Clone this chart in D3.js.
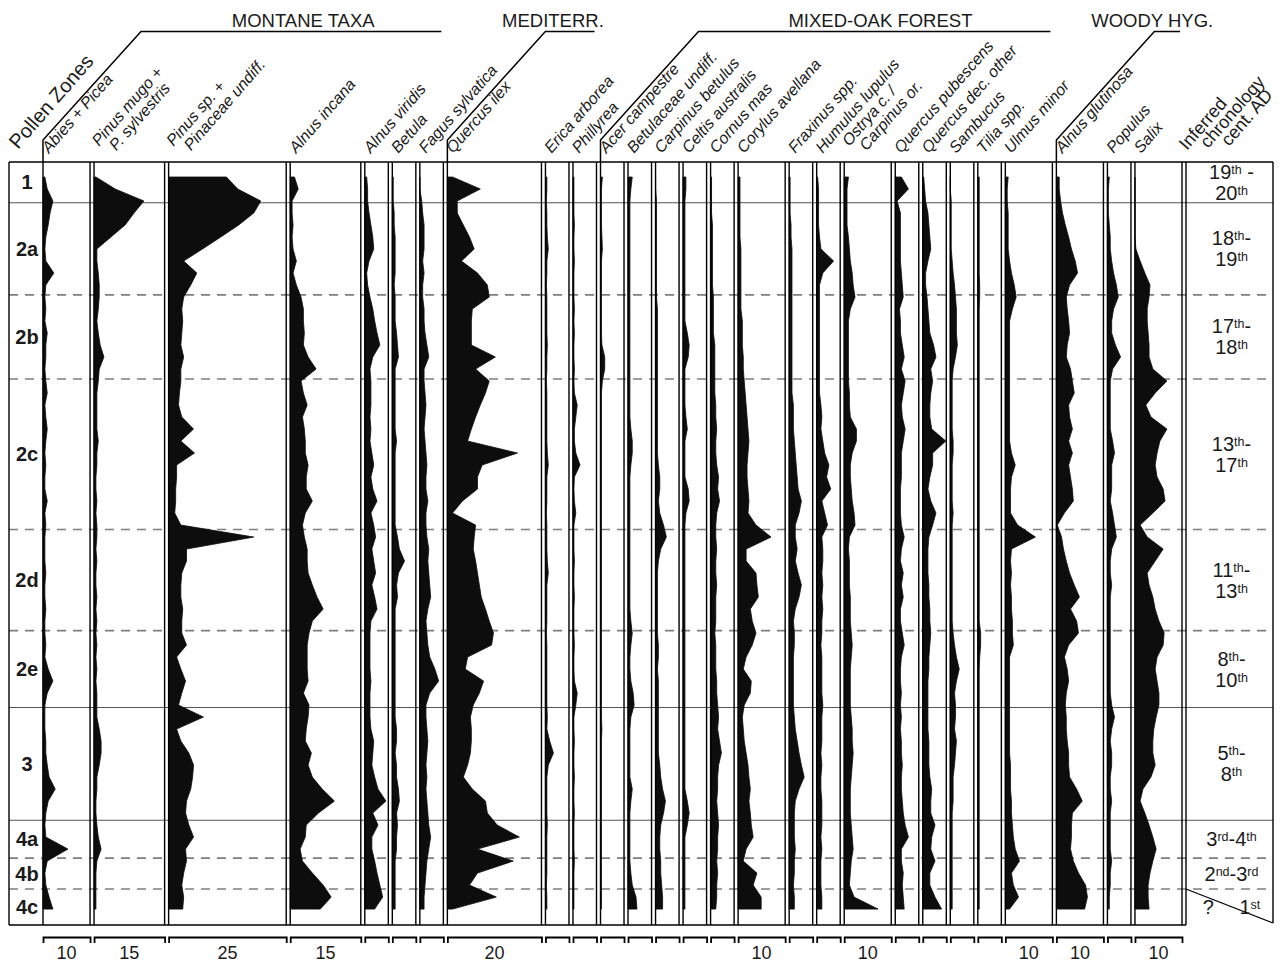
<!DOCTYPE html>
<html>
<head>
<meta charset="utf-8">
<script src="https://cdn.jsdelivr.net/npm/d3@7"></script>
<style>
  body { margin: 0; background: #fff; }
  svg { display: block; font-family: "Liberation Sans", Arial, sans-serif; }
</style>
</head>
<body>
<svg id="chart" width="1287" height="967"></svg>
<script>
// ---------------------------------------------------------------
// Pollen percentage diagram – trees and shrubs
// ---------------------------------------------------------------

// sample depths (cm below the top of the sequence)
const depths = [5,9,13,17,21,25,29,33,37,41, 45,49,53,57,61,65,69,73,77,81,
  85,89,93,97,101,105,109,113,117,121, 125,129,133,137,141,145,149,153,157,161,
  165,169,173,177,181,185,189,193,197,201, 205,209,213,217,221,225,229,233,237,241,245,249];

// taxon names (one entry per curve, multi-line where needed)
const taxonLabels = [
  ["Abies + Picea"], ["Pinus mugo +", "P. sylvestris"], ["Pinus sp. +", "Pinaceae undiff."],
  ["Alnus incana"], ["Alnus viridis"], ["Betula"], ["Fagus sylvatica"],
  ["Quercus ilex"], ["Erica arborea"], ["Phillyrea"],
  ["Acer campestre"], ["Betulaceae undiff."], ["Carpinus betulus"], ["Celtis australis"],
  ["Cornus mas"], ["Corylus avellana"], ["Fraxinus spp."], ["Humulus lupulus"],
  ["Ostrya c. /", "Carpinus or."], ["Quercus pubescens"], ["Quercus dec. other"],
  ["Sambucus"], ["Tilia spp."], ["Ulmus minor"],
  ["Alnus glutinosa"], ["Populus"], ["Salix"]
];

// full width of each curve's scale (%)
const scaleMax = [10,15,25,15,5,5,5,20,5,5,5,5,5,5,5,10,5,5,10,5,5,5,5,10,10,5,10];
// scale labels printed under the curves
const scaleLabels = ["10","15","25","15","","","","20","","","","","","","","10","","","10","","","","","10","10","","10"];

// ecological groups: [title, first curve, last curve]
const groupNames = ["MONTANE TAXA", "MEDITERR.", "MIXED-OAK FOREST", "WOODY HYG."];
const groupFirst = [0, 7, 10, 24];
const groupLast  = [6, 9, 23, 26];

// pollen zones
const zoneNames = ["1","2a","2b","2c","2d","2e","3","4a","4b","4c"];
const zoneTops  = [0, 13.6, 44.3, 72.3, 122.5, 156.2, 181.8, 219.4, 232.0, 242.3];
const coreBase  = 254.3;
// boundary at the top of each zone: main (solid) or sub-zone (dashed)
const zoneBoundaryDashed = [false, false, true, true, true, true, false, false, true, true];

// inferred chronology (centuries AD); ^...^ marks superscript
const chronology = [
  ["19^th^ -", "20^th^"], ["18^th^-", "19^th^"], ["17^th^-", "18^th^"], ["13^th^-", "17^th^"],
  ["11^th^-", "13^th^"], ["8^th^-", "10^th^"], ["5^th^-", "8^th^"],
  ["3^rd^-4^th^"], ["2^nd^-3^rd^"], ["?\u2002\u2002 1^st^"]
];
const chronologyTitle = ["Inferred", "chronology", "cent. AD"];

// percentages per taxon, one value per sample depth
const abiesPicea = [0.4,0.9,2.1,1.5,1.1,0.6,0.4,0.6,2.3,0.6, 0.4,0.6,0.4,0.9,0.6,0.6,0.4,0.6,0.9,0.4, 0.6,0.9,0.6,0.4,0.6,0.4,0.4,0.9,0.4,0.6, 0.4,0.4,0.4,0.6,0.4,0.4,0.6,0.4,0.4,0.6, 0.4,1.1,2.1,0.9,0.4,0.4,0.4,0.6,0.6,0.9, 1.3,2.6,1.1,0.6,0.4,0.6,5.3,0.9,0.4,0.6,1.3,2.1];
const pinusMugo = [0.4,4.5,10.6,8.5,6.6,3.6,0.6,0.6,0.9,1.1, 1.1,0.9,0.6,0.9,1.3,2.1,1.1,0.9,0.6,0.6, 0.6,0.6,0.9,0.6,0.6,0.4,0.4,0.6,0.4,0.6, 0.6,0.4,0.6,0.4,0.4,0.6,0.4,0.6,0.4,0.6, 0.4,0.6,0.4,0.6,0.6,0.6,1.1,1.5,1.5,1.1, 0.6,0.6,0.4,0.4,0.6,0.9,1.5,0.6,0.4,0.4,0.4,0.4];
const pinusSp = [12.3,14.7,19.6,18.1,14.9,11.1,7.2,3.2,6.0,4.7, 3.2,2.8,3.0,2.8,2.6,3.2,2.6,2.6,2.3,2.1, 2.8,5.3,2.6,5.5,1.7,1.7,1.5,1.5,1.3,2.6, 18.1,3.8,3.8,2.8,2.6,2.6,3.0,2.8,2.8,3.8, 1.7,2.6,3.6,2.8,2.1,7.4,1.7,2.6,4.3,5.3, 5.1,4.7,3.8,3.6,4.3,5.3,3.6,3.8,3.2,2.8,3.2,3.0];
const alnusIncana = [0.9,1.7,0.4,0.4,0.6,0.4,0.6,1.3,0.6,1.3, 2.3,2.8,2.8,3.0,2.8,3.8,5.5,2.3,2.8,3.6, 2.6,3.0,3.2,3.2,3.8,3.4,3.4,4.7,3.2,2.6, 3.0,3.6,3.6,3.8,4.7,5.7,7.0,4.7,4.0,3.6, 3.6,3.6,3.8,2.8,4.0,3.8,3.4,3.2,4.5,3.8, 4.7,6.8,9.4,6.0,3.4,3.2,2.1,2.6,4.7,7.0,8.7,6.4];
const alnusViridis = [0.4,0.6,0.6,0.9,1.3,1.7,1.9,0.9,0.4,0.6, 1.1,1.7,2.1,2.6,3.2,1.7,1.1,1.3,1.3,1.3, 1.1,1.3,1.1,1.5,1.9,1.3,1.7,2.6,1.3,1.9, 2.3,1.5,1.9,2.3,1.5,2.1,2.6,1.3,1.1,1.1, 1.1,1.1,1.3,1.1,1.1,1.1,1.3,1.9,1.7,1.5, 2.1,2.8,4.5,1.7,2.8,1.5,1.5,2.1,2.6,3.2,3.8,2.1];
const betula = [0.2,0.2,0.2,0.4,0.4,0.6,0.6,0.6,0.6,0.4, 0.6,0.6,0.6,0.9,1.1,1.3,0.6,0.6,0.6,0.6, 0.6,0.6,0.9,0.6,0.6,0.6,0.6,0.6,0.6,0.6, 1.1,1.5,2.6,1.3,0.9,1.1,0.6,0.6,0.6,0.6, 0.6,0.6,0.6,0.6,0.6,0.6,0.9,0.9,0.6,0.9, 0.9,1.3,1.5,0.9,1.1,0.9,0.9,0.6,0.6,0.6,0.6,0.6];
const fagusSylvatica = [0,0,0.4,0.6,0.9,0.9,0.9,0.6,0.9,0.6, 0.6,0.9,0.9,1.1,1.5,1.9,0.9,0.9,1.1,1.3, 1.1,0.9,1.1,1.3,1.5,1.3,1.3,1.7,1.3,1.3, 1.5,1.9,1.7,1.9,2.1,2.3,1.7,1.3,1.5,1.7, 2.1,3.2,4.0,2.1,1.3,1.3,1.5,1.7,1.5,1.3, 1.5,1.3,1.5,1.7,1.9,2.3,1.9,1.5,1.3,1.1,0.9,0.9];
const quercusIlex = [1.1,7.0,2.1,2.1,3.4,4.7,5.7,3.0,6.4,8.5, 8.9,5.3,5.1,5.1,5.1,10.2,6.0,8.9,8.1,7.0, 6.0,5.1,4.3,14.9,7.4,6.4,6.4,3.2,1.1,6.0, 5.7,5.5,6.0,6.4,6.8,7.2,8.1,8.9,9.8,9.4, 4.3,3.8,7.7,6.8,5.5,4.9,5.1,5.1,4.9,4.3, 3.4,5.3,8.1,8.5,10.6,15.3,6.4,14.0,6.4,4.7,10.4,1.1];
const ericaArborea = [0.3,0.3,0.2,0.3,0.3,0.4,0.6,0.3,0.3,0.2, 0.3,0.3,0.3,0.3,0.4,0.3,0.3,0.2,0.3,0.3, 0.3,0.3,0.3,0.4,0.6,0.3,0.3,0.3,0.2,0.3, 0.3,0.3,0.4,0.6,0.3,0.3,0.3,0.3,0.2,0.3, 0.3,0.3,0.3,0.3,0.3,0.4,0.3,0.9,1.7,0.6, 0.3,0.3,0.3,0.3,0.4,0.3,0.3,0.3,0.3,0.2,0.3,0.3];
const phillyrea = [0.2,0.2,0.2,0.2,0.3,0.2,0.2,0.3,0.2,0.2, 0.2,0.3,0.2,0.3,0.2,0.2,0.3,0.2,0.3,0.9, 0.6,0.3,0.3,0.6,1.5,0.3,0.2,0.3,0.6,0.2, 0.2,0.2,0.3,0.2,0.2,0.3,0.2,0.2,0.2,0.3, 0.2,0.2,0.3,0.9,0.6,0.2,0.2,0.3,0.2,0.2, 0.3,0.2,0.2,0.3,0.2,0.2,0.2,0.3,0.2,0.2,0.2,0.2];
const acerCampestre = [0.4,0.2,0.2,0.2,0.2,0.3,0.4,0.2,0.2,0.2, 0.2,0.2,0.2,0.2,0.3,0.9,0.9,0.4,0.2,0.2, 0.2,0.2,0.2,0.2,0.2,0.2,0.2,0.2,0.2,0.2, 0.2,0.2,0.2,0.2,0.2,0.2,0.2,0.2,0.2,0.2, 0.2,0.2,0.2,0.2,0.2,0.2,0.3,0.2,0.2,0.2, 0.2,0.2,0.2,0.2,0.2,0.2,0.2,0.2,0.2,0.2,0.2,0.2];
const betulaceaeUndiff = [0.9,0.6,0.4,0.4,0.4,0.4,0.4,0.4,0.4,0.4, 0.4,0.4,0.4,0.4,0.4,0.4,0.4,0.4,0.4,0.4, 0.4,0.6,0.9,0.9,0.6,0.4,0.4,0.4,0.4,0.4, 0.4,0.4,0.4,0.4,0.4,0.4,0.4,0.6,0.9,0.6, 0.4,0.4,0.6,1.1,1.3,0.6,0.4,0.4,0.4,0.4, 0.4,0.9,0.6,0.4,0.4,0.4,0.4,0.4,0.6,0.9,1.7,1.9];
const carpinusBetulus = [0,0,0.2,0.2,0.2,0.2,0.2,0.2,0.2,0.2, 0.2,0.4,0.4,0.4,0.4,0.4,0.4,0.4,0.4,0.4, 0.4,0.4,0.4,0.4,0.6,0.9,0.9,0.6,0.9,1.7, 2.3,1.1,0.6,0.4,0.4,0.4,0.4,0.4,0.4,0.6, 0.6,0.4,0.6,0.6,0.6,0.6,0.6,0.6,0.6,0.9, 1.1,1.5,2.1,1.7,1.1,0.9,0.9,1.1,1.1,1.3,1.5,1.5];
const celtisAustralis = [0.6,0.6,0.4,0.4,0.4,0.4,0.4,0.4,0.4,0.4, 0.4,0.4,0.4,0.9,1.3,1.1,0.4,0.4,0.4,0.4, 0.6,0.9,0.4,0.4,0.4,0.4,1.1,1.3,0.6,0.4, 0.4,0.4,0.4,0.4,0.4,0.4,0.4,0.4,0.4,0.4, 0.4,0.4,0.4,0.4,0.4,0.4,0.4,0.4,0.4,0.4, 0.4,0.4,0.9,1.3,0.9,0.4,0.4,0.4,0.4,0.4,0.4,0.4];
const cornusMas = [0.2,0.2,0.2,0.2,0.4,0.4,0.4,0.4,0.4,0.4, 0.6,0.6,0.6,0.6,0.9,0.9,0.9,0.9,0.9,1.1, 1.1,1.3,1.1,1.1,1.3,1.7,1.5,1.9,1.3,1.1, 1.1,1.3,1.1,1.1,1.3,1.1,1.1,1.1,0.9,1.1, 1.1,1.1,1.3,1.3,1.5,1.7,1.5,1.9,2.3,1.7, 1.5,1.5,1.3,1.5,1.7,1.5,1.5,1.3,1.5,1.3,1.3,1.1];
const corylusAvellana = [0.4,0.4,0.4,0.4,0.4,0.4,0.6,0.6,0.6,0.6, 0.6,0.6,0.9,0.9,0.9,1.1,1.1,1.3,1.5,1.7, 1.9,2.1,2.3,2.1,1.9,1.9,2.1,2.3,2.1,3.8, 7.0,1.7,1.7,3.8,4.0,4.3,2.6,3.0,3.8,3.0, 1.7,1.1,2.8,2.6,1.3,0.9,1.1,1.3,1.7,2.1, 2.3,2.6,2.3,2.6,2.8,3.2,1.7,1.1,4.0,3.2,4.9,4.9];
const fraxinusSpp = [0.2,0.2,0.2,0.2,0.4,0.4,0.6,0.6,0.6,0.6, 0.6,0.6,0.6,0.6,0.6,0.6,0.6,0.6,0.6,0.9, 0.9,0.9,1.1,1.3,1.5,1.7,1.9,2.6,2.1,1.3, 1.3,1.7,1.3,1.9,2.6,2.1,1.3,0.9,1.1,1.1, 0.9,0.9,0.9,0.9,0.9,1.1,1.3,1.7,2.1,2.6, 3.2,2.1,1.3,1.1,1.1,1.1,1.3,1.1,1.1,0.9,1.1,1.1];
const humulusLupulus = [0.2,0.4,0.4,0.4,0.4,0.6,0.9,3.6,1.3,0.6, 0.6,0.6,0.6,0.6,0.6,0.6,0.6,0.6,0.6,0.9, 1.1,0.9,1.3,1.7,2.6,2.1,3.0,1.1,1.7,2.3, 1.1,1.3,1.3,1.1,1.3,1.1,1.3,1.1,1.1,0.9, 1.1,1.1,1.1,1.1,1.3,1.1,1.1,1.1,0.9,1.1, 0.9,0.9,1.1,1.1,1.1,0.9,1.1,0.9,0.9,0.9,1.1,1.1];
const ostryaCarpinusOr = [0.9,0.6,0.6,0.6,0.6,0.9,1.1,1.3,1.7,1.9, 2.3,1.3,0.9,0.9,0.9,0.9,0.9,0.9,1.1,1.1, 1.3,2.6,2.6,1.7,1.3,1.3,1.5,1.7,2.1,2.3, 1.1,0.9,1.1,1.1,1.1,1.3,1.3,1.3,1.5,1.7, 1.5,1.3,1.3,1.3,1.3,1.5,1.7,1.7,1.9,1.7, 1.5,1.3,1.3,1.3,1.5,1.7,1.9,1.5,1.3,1.1,2.1,7.2];
const quercusPubescens = [1.3,2.8,0.4,1.1,1.1,1.1,1.1,1.1,1.3,1.5, 1.7,0.9,1.1,1.1,1.5,1.9,1.3,2.1,1.7,1.3, 1.5,2.1,1.7,1.3,1.3,1.3,1.1,1.1,1.1,1.3, 1.9,1.3,1.1,1.7,1.3,1.7,1.1,1.1,1.5,1.9, 1.3,1.1,1.1,1.3,1.1,1.3,1.1,1.3,1.3,1.5, 1.3,1.3,1.5,1.7,2.1,2.8,1.3,1.3,1.7,1.5,1.7,1.9];
const quercusDecOther = [0.2,0.4,0.6,1.1,1.3,1.5,1.7,1.1,0.6,0.6, 0.9,1.1,1.3,1.5,2.3,2.8,1.7,2.1,1.7,1.5, 1.5,1.9,4.9,2.1,2.1,1.5,1.1,1.7,2.8,2.1, 1.3,1.1,1.1,1.1,1.3,1.3,1.5,1.5,1.7,1.5, 1.3,1.3,1.1,1.1,1.1,1.1,1.1,1.3,1.3,1.3, 1.5,1.9,1.7,1.7,2.6,1.9,1.7,2.6,1.5,1.5,2.6,4.0];
const sambucus = [0,0,0.2,0.2,0.2,0.2,0.2,0.4,0.6,0.9, 1.1,1.3,1.3,1.3,1.5,1.1,0.6,0.4,0.4,0.4, 0.4,0.4,0.6,0.6,0.4,0.4,0.4,0.4,0.6,0.4, 0.4,0.4,0.4,0.4,0.4,0.4,0.4,0.4,0.6,0.9, 1.3,1.9,1.3,0.9,1.1,1.1,0.9,1.3,1.1,0.9, 0.6,0.6,0.6,0.4,0.4,0.4,0.4,0.4,0.4,0.4,0.4,0.4];
const tiliaSpp = [0.3,0.3,0.3,0.3,0.3,0.3,0.3,0.3,0.3,0.4, 0.4,0.3,0.3,0.3,0.3,0.3,0.3,0.3,0.3,0.3, 0.3,0.3,0.3,0.3,0.3,0.3,0.3,0.3,0.3,0.3, 0.3,0.3,0.3,0.3,0.3,0.3,0.3,0.3,0.6,0.6, 0.4,0.3,0.3,0.3,0.3,0.3,0.3,0.3,0.3,0.3, 0.3,0.3,0.3,0.3,0.3,0.3,0.3,0.3,0.3,0.3,0.3,0.3];
const ulmusMinor = [0.6,0.4,0.4,0.6,0.6,0.6,0.6,0.9,1.3,1.9, 2.3,1.5,0.9,0.9,0.9,0.9,0.9,0.9,0.9,0.9, 0.9,0.9,0.9,1.3,2.1,1.3,1.1,1.1,1.1,2.6, 6.4,1.3,1.1,1.3,1.1,1.3,1.3,1.5,1.5,1.7, 0.9,0.9,0.9,0.9,0.9,0.9,0.9,0.9,0.9,1.1, 1.1,1.1,1.3,1.3,1.5,1.7,2.1,3.0,1.3,1.7,2.8,0.9];
const alnusGlutinosa = [0.6,0.6,0.9,1.3,1.9,2.6,3.2,4.0,4.5,2.8, 2.1,2.3,2.6,2.8,2.3,2.1,3.0,3.4,3.8,2.6, 2.8,3.4,2.6,3.4,2.6,3.0,3.4,3.6,1.7,0.2, 1.1,1.5,2.1,2.8,3.8,4.9,3.0,4.3,4.7,2.6, 1.7,2.3,2.6,2.1,1.9,2.1,2.1,2.3,2.6,2.6, 2.8,4.3,5.5,3.4,3.2,3.2,3.0,3.6,4.7,6.2,6.6,6.0];
const populus = [0.4,0.2,0.2,0.2,0.4,0.6,0.6,0.9,1.3,1.9, 2.3,1.3,0.9,0.9,1.7,2.8,1.1,0.6,0.6,0.6, 0.6,0.6,1.1,1.5,0.9,0.9,0.9,0.6,1.1,1.5, 1.9,0.9,0.6,0.6,0.9,0.6,0.6,0.6,0.6,0.6, 0.6,0.6,0.6,0.6,0.9,1.5,0.9,0.6,0.9,0.9, 0.6,0.6,0.9,0.6,0.6,0.6,0.6,0.9,0.6,0.6,0.4,0.4];
const salix = [0,0,0,0,0,0,0.2,1.1,2.1,3.2, 3.0,2.6,2.6,2.8,3.0,3.0,3.8,6.8,4.3,2.3, 3.4,6.8,5.3,4.7,4.3,4.7,6.0,6.4,3.8,1.1, 2.6,6.0,4.3,2.6,3.0,3.8,4.3,5.1,6.2,6.0, 4.7,4.3,4.7,5.1,5.1,4.5,4.0,3.8,3.8,4.3, 3.4,1.7,1.1,2.1,3.0,3.8,4.5,3.8,3.2,2.8,2.8,3.0];

const series = [abiesPicea, pinusMugo, pinusSp, alnusIncana, alnusViridis, betula, fagusSylvatica,
  quercusIlex, ericaArborea, phillyrea,
  acerCampestre, betulaceaeUndiff, carpinusBetulus, celtisAustralis, cornusMas, corylusAvellana,
  fraxinusSpp, humulusLupulus, ostryaCarpinusOr, quercusPubescens, quercusDecOther, sambucus,
  tiliaSpp, ulmusMinor, alnusGlutinosa, populus, salix];

// ---------------------------------------------------------------
// layout
// ---------------------------------------------------------------
const svg = d3.select("#chart");
const ink = "#1a1a1a";
const frameTop = 162, frameBottom = 925;
const zoneColLeft = 9, firstPanelLeft = 43, lastPanelRight = 1182, panelGap = 4, chronRight = 1273;

const pxPerPct = (lastPanelRight - firstPanelLeft - panelGap * (scaleMax.length - 1)) / d3.sum(scaleMax);
let cursor = firstPanelLeft;
const panels = scaleMax.map((m, i) => {
  const x0 = cursor, x1 = x0 + m * pxPerPct;
  cursor = x1 + panelGap;
  return { i, x0, x1, x: d3.scaleLinear().domain([0, m]).range([x0, x1]) };
});
const chronLeft = panels[panels.length - 1].x1 + panelGap;

const y = d3.scaleLinear().domain([0, coreBase]).range([frameTop, frameBottom]);

// zone boundaries (drawn under the curves)
const gZones = svg.append("g");
zoneTops.forEach((d, i) => {
  if (i === 0) return;
  const dashed = zoneBoundaryDashed[i];
  gZones.append("line")
    .attr("x1", zoneColLeft).attr("x2", chronRight)
    .attr("y1", y(d)).attr("y2", y(d))
    .attr("stroke", dashed ? "#7f7f7f" : "#555")
    .attr("stroke-width", dashed ? 1.6 : 1.1)
    .attr("stroke-dasharray", dashed ? "9,7" : null);
});

// silhouette curves
const gCurves = svg.append("g");
panels.forEach(p => {
  const rows = depths.map((d, k) => ({ d, v: series[p.i][k] }));
  const area = d3.area()
    .x0(p.x0)
    .x1(r => p.x(r.v))
    .y(r => y(r.d));
  gCurves.append("path")
    .attr("d", area(rows))
    .attr("fill", "#0d0d0d")
    .attr("stroke", "#0d0d0d")
    .attr("stroke-width", 0.8)
    .attr("stroke-linejoin", "miter");
});

// panel borders and frame
const gFrame = svg.append("g").attr("stroke", "#000").attr("fill", "none");
const vline = (x, y1, y2, w) => gFrame.append("line")
  .attr("x1", x).attr("x2", x).attr("y1", y1).attr("y2", y2).attr("stroke-width", w || 1.4);
vline(zoneColLeft, frameTop, frameBottom);
panels.forEach(p => { vline(p.x0, frameTop, frameBottom); vline(p.x1, frameTop, frameBottom); });
vline(chronLeft, frameTop, frameBottom);
vline(chronRight, frameTop, frameBottom - 2);
gFrame.append("line").attr("x1", zoneColLeft).attr("x2", chronRight)
  .attr("y1", frameTop).attr("y2", frameTop).attr("stroke-width", 1.6);
gFrame.append("line").attr("x1", zoneColLeft).attr("x2", chronLeft)
  .attr("y1", frameBottom).attr("y2", frameBottom).attr("stroke-width", 1.6);
gFrame.append("line").attr("x1", chronLeft).attr("x2", chronRight)
  .attr("y1", y(zoneTops[9])).attr("y2", frameBottom - 2).attr("stroke-width", 1.3);

// zone labels
zoneNames.forEach((z, i) => {
  const top = zoneTops[i], base = i < zoneTops.length - 1 ? zoneTops[i + 1] : coreBase;
  svg.append("text")
    .attr("x", 27).attr("y", (y(top) + y(base)) / 2 + 7)
    .attr("text-anchor", "middle").attr("font-weight", "bold").attr("font-size", 20)
    .attr("fill", ink).text(z);
});

// chronology labels with superscripts (one text element per zone)
const supRaise = 5;
function richText(sel, str, size, supSize) {
  let raised = false;
  const spans = [];
  str.split("^").forEach((s, i) => {
    if (!s) return;
    const sup = i % 2 === 1;
    const t = sel.append("tspan").attr("font-size", sup ? supSize : size).text(s);
    if (sup !== raised) { t.attr("dy", sup ? -supRaise : supRaise); raised = sup; }
    spans.push(t);
  });
  return { spans, raised };
}
const chronMid = (chronLeft + chronRight) / 2 + 2;
const chronLine = 21;
chronology.forEach((lines, i) => {
  const top = zoneTops[i], base = i < zoneTops.length - 1 ? zoneTops[i + 1] : coreBase;
  const mid = (y(top) + y(base)) / 2;
  const t = svg.append("text")
    .attr("x", chronMid)
    .attr("y", mid - (lines.length - 1) / 2 * chronLine + 7)
    .attr("text-anchor", "middle").attr("fill", ink);
  let lastRaised = false;
  lines.forEach((ln, j) => {
    const r = richText(t, ln, 20, 12.5);
    if (j > 0) {
      // first span of a new line starts at the column centre, one line lower
      const back = lastRaised ? supRaise : 0;
      r.spans[0].attr("x", chronMid).attr("dy", chronLine + back);
    }
    lastRaised = r.raised;
  });
});

// scale brackets under each curve
panels.forEach(p => {
  const ax = d3.axisBottom(p.x).tickValues([]).tickSizeOuter(6);
  const g = svg.append("g").attr("transform", `translate(0,937)`).call(ax);
  g.select(".domain").attr("stroke", "#000").attr("stroke-width", 1.8);
  if (scaleLabels[p.i]) {
    svg.append("text")
      .attr("x", p.x(scaleMax[p.i] / 2)).attr("y", 959)
      .attr("text-anchor", "middle").attr("font-size", 18).attr("fill", ink)
      .text(scaleLabels[p.i]);
  }
});

// rotated taxon names
const angle = -49;
panels.forEach(p => {
  const lines = taxonLabels[p.i];
  const two = lines.length > 1;
  const t = svg.append("text")
    .attr("transform", `translate(${p.x0 + (two ? 5 : 6)},${two ? 147 : 154}) rotate(${angle})`)
    .attr("font-style", "italic").attr("font-size", 16).attr("fill", ink);
  lines.forEach((s, j) => t.append("tspan").attr("x", j * 8).attr("y", j * 16).text(s));
});

svg.append("text")
  .attr("transform", `translate(18,150) rotate(${angle})`)
  .attr("font-size", 20).attr("fill", ink).text("Pollen Zones");

// column title of the chronology: each line starts on roughly the same row above the frame
const chronHead = svg.append("text")
  .attr("transform", `translate(${chronLeft + 1},151) rotate(${angle})`)
  .attr("font-size", 18).attr("fill", ink);
chronologyTitle.forEach((s, j) => {
  const dx = j * 21, dy = -j * 2;
  const rad = -angle * Math.PI / 180;
  chronHead.append("tspan")
    .attr("x", dx * Math.cos(rad) - dy * Math.sin(rad))
    .attr("y", dx * Math.sin(rad) + dy * Math.cos(rad))
    .text(s);
});

// ecological group headers
const titleShift = [12, -17, 6, -15];
groupNames.forEach((name, gi) => {
  const x0 = panels[groupFirst[gi]].x0;
  const xEnd = panels[groupLast[gi]].x1 - 2;
  const yStub = 140, yLine = 31.5, xDiag = x0 + 98;
  svg.append("path")
    .attr("d", `M${x0},${frameTop}V${yStub}L${xDiag},${yLine}H${xEnd}`)
    .attr("fill", "none").attr("stroke", "#000").attr("stroke-width", 1.5);
  svg.append("text")
    .attr("x", (xDiag + xEnd) / 2 + titleShift[gi]).attr("y", 27)
    .attr("text-anchor", "middle").attr("font-size", 18.5).attr("fill", ink)
    .text(name);
});
</script>
</body>
</html>
